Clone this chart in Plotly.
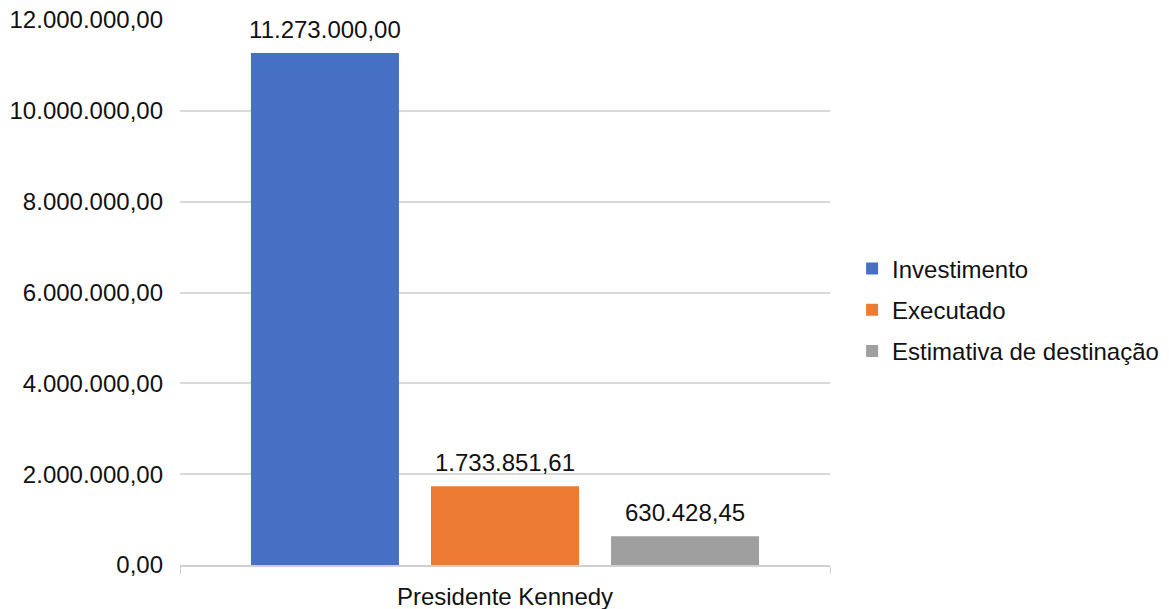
import plotly.graph_objects as go

categories = ["Presidente Kennedy"]
series_names = ["Investimento", "Executado", "Estimativa de destinação"]
investimento = [11273000.00]
executado = [1733851.61]
estimativa = [630428.45]
y_ticks = [0, 2000000, 4000000, 6000000, 8000000, 10000000, 12000000]

colors = ["#4570c4", "#ee7b34", "#9f9f9f"]
values = [investimento, executado, estimativa]

FONT = "Liberation Sans, Arial, sans-serif"
TXT = "#111111"
fig = go.Figure()
for i, (name, vals, col) in enumerate(zip(series_names, values, colors)):
    fig.add_trace(go.Bar(
        x=categories, y=vals, name=name, legendgroup=name,
        offsetgroup=str(i),
        marker=dict(color=col, line=dict(width=0)),
    ))
for i, (name, vals) in enumerate(zip(series_names, values)):
    fig.add_trace(go.Scatter(
        x=categories, y=vals, mode="markers+text", showlegend=False,
        offsetgroup=str(i), legendgroup=name,
        marker=dict(size=13, opacity=0),
        texttemplate="%{y:,.2f}", textposition="top center",
        textfont=dict(family=FONT, size=24, color=TXT),
        cliponaxis=False, hoverinfo="skip",
    ))

fig.update_layout(
    width=1169, height=609,
    margin=dict(l=180, r=339, t=20, b=44, autoexpand=False),
    paper_bgcolor="white", plot_bgcolor="white",
    separators=",.",
    barmode="group", bargap=0.169, bargroupgap=0.178,
    scattermode="group", scattergap=0.169,
    font=dict(family=FONT, size=24, color=TXT),
    showlegend=True,
    legend=dict(x=1.034, xanchor="left", y=0.468, yanchor="middle",
                traceorder="grouped", tracegroupgap=7,
                font=dict(family=FONT, size=24, color=TXT),
                bgcolor="rgba(0,0,0,0)"),
    xaxis=dict(showgrid=False, showline=True, linecolor="#d0d0d0", linewidth=1.5,
               ticks="outside", tickson="boundaries", ticklen=7, tickcolor="#d0d0d0",
               ticklabelstandoff=9, automargin=False,
               tickfont=dict(family=FONT, size=24, color=TXT)),
    yaxis=dict(range=[0, 12000000], tickvals=y_ticks, tickformat=",.2f",
               showgrid=True, gridcolor="#d9d9d9", gridwidth=1.5,
               zeroline=False, showline=False, ticks="",
               ticklabelstandoff=16, automargin=False,
               tickfont=dict(family=FONT, size=24, color=TXT)),
)

fig.write_html("out.html")
